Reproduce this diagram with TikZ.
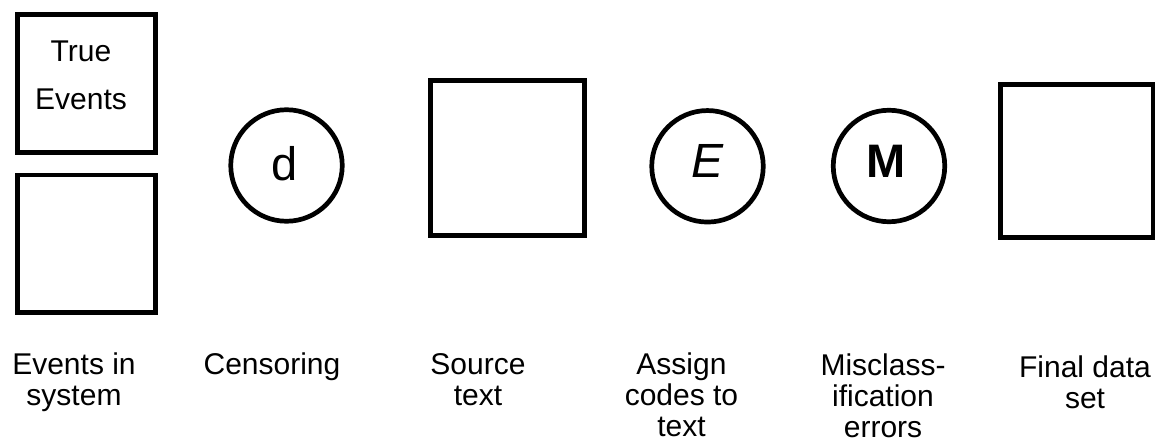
\documentclass[tikz,border=0pt]{standalone}
\usepackage{fontspec}
\setmainfont{Liberation Sans}
\begin{document}
\begin{tikzpicture}[x=1pt,y=-1pt,
  boxshape/.style={draw,line width=4.8pt,rectangle,inner sep=0pt},
  circ/.style={draw,line width=4.7pt,circle,inner sep=0pt,minimum size=111.5pt},
  caption/.style={align=center,font=\fontsize{30}{31}\selectfont,inner sep=0pt,anchor=base},
  letter/.style={inner sep=0pt,anchor=base},
]
\useasboundingbox (0,0) rectangle (1155,438);
% shapes
\node[boxshape,minimum width=138pt,minimum height=138pt] (truebox) at (86.5,83.5) {};
\node[boxshape,minimum width=138pt,minimum height=137.5pt] (sysbox) at (86.5,243.75) {};
\node[circ] (dcirc) at (286.5,165.5) {};
\node[boxshape,minimum width=154pt,minimum height=155pt] (srcbox) at (507.5,158) {};
\node[circ] (ecirc) at (707.5,166.3) {};
\node[circ] (mcirc) at (889,166) {};
\node[boxshape,minimum width=152.5pt,minimum height=153pt] (finalbox) at (1076.75,161) {};
% texts inside (base anchor = baseline of the last line)
\node[align=center,inner sep=0pt,anchor=base,font=\fontsize{30}{48}\selectfont] (truetxt) at (81,110) {True\\Events};
\node[letter,font=\fontsize{47}{47}\selectfont] (dtxt) at (284.5,180.7) {d};
\node[letter,font=\fontsize{48}{48}\selectfont\itshape] (etxt) at (707.5,177.3) {E};
\node[letter,font=\fontsize{47}{47}\selectfont\bfseries] (mtxt) at (886,177.3) {M};
% captions
\node[caption] (cap1) at (74,405) {Events in\\system};
\node[caption] (cap2) at (272,374) {Censoring};
\node[caption] (cap3) at (478,405) {Source\\text};
\node[caption] (cap4) at (681.5,436) {Assign\\codes to\\text};
\node[caption] (cap5) at (883,437) {Misclass-\\ification\\errors};
\node[caption] (cap6) at (1085,408) {Final data\\set};
\end{tikzpicture}
\end{document}
